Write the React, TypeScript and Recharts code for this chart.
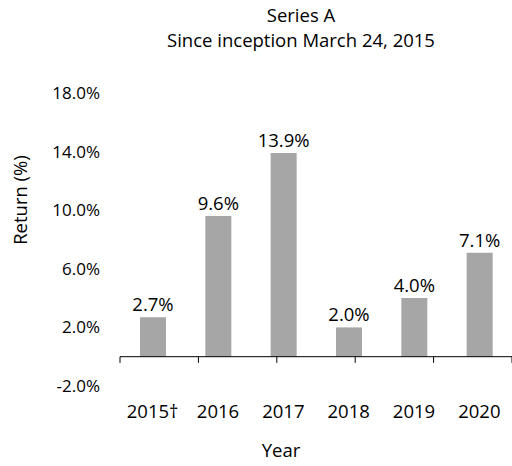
import { BarChart, Bar, XAxis, YAxis, ReferenceLine, LabelList } from "recharts";

// ─── Data ────────────────────────────────────────────────────────────────────

const YEARS = ["2015†", "2016", "2017", "2018", "2019", "2020"];
const RETURNS = [2.7, 9.6, 13.9, 2.0, 4.0, 7.1];
const Y_TICKS = [-2, 2, 6, 10, 14, 18];
const EDGES = [0, 1, 2, 3, 4, 5, 6];

const data = YEARS.map((year, i) => ({ year, value: RETURNS[i] }));

const FONT = "'Open Sans', sans-serif";
const xTickStyle = { fontSize: 18.5, fill: "#000", fontFamily: FONT };
const yTickStyle = { fontSize: 17, fill: "#000", fontFamily: FONT };

const textBox = (left: number, top: number) => ({
  position: "absolute" as const,
  left,
  top,
  transform: "translateX(-50%)",
  whiteSpace: "nowrap" as const,
  fontSize: 18.5,
  lineHeight: "22px",
});

export default function App() {
  return (
    <div
      style={{
        position: "fixed",
        left: 0,
        top: 0,
        width: 512,
        height: 466,
        background: "#fff",
        fontFamily: FONT,
        color: "#000",
      }}
    >
      <div style={textBox(301, 4)}>Series A</div>
      <div style={textBox(301, 29)}>Since inception March 24, 2015</div>
      <div
        style={{
          ...textBox(20, 200),
          transform: "translate(-50%, -50%) rotate(-90deg)",
        }}
      >
        Return (%)
      </div>
      <div style={textBox(281, 439)}>Year</div>

      <BarChart
        width={512}
        height={466}
        data={data}
        margin={{ top: 93, right: 0, bottom: 0, left: 0 }}
        barSize={26}
        style={{ position: "absolute", left: 0, top: 0 }}
      >
        <XAxis
          dataKey="year"
          height={80}
          axisLine={false}
          tickLine={false}
          tickSize={0}
          tickMargin={19}
          tick={xTickStyle}
          interval={0}
        />
        <XAxis xAxisId="edges" type="number" domain={[0, 6]} hide />
        <YAxis
          width={120}
          domain={[-2, 18]}
          ticks={Y_TICKS}
          axisLine={false}
          tickLine={false}
          tickSize={0}
          tickMargin={20}
          tick={yTickStyle}
          tickFormatter={(v: number) => `${v.toFixed(1)}%`}
        />
        <Bar dataKey="value" fill="#a6a6a6" isAnimationActive={false}>
          <LabelList
            dataKey="value"
            position="top"
            offset={6}
            formatter={(v: number) => `${Number(v).toFixed(1)}%`}
            style={{ fontSize: 18.5, fill: "#000", fontFamily: FONT }}
          />
        </Bar>
        <ReferenceLine y={0} stroke="#000" strokeWidth={1} />
        {EDGES.map((e) => (
          <ReferenceLine
            key={e}
            xAxisId="edges"
            segment={[
              { x: e, y: 0 },
              { x: e, y: -0.42 },
            ]}
            stroke="#000"
            strokeWidth={1}
          />
        ))}
      </BarChart>
    </div>
  );
}
